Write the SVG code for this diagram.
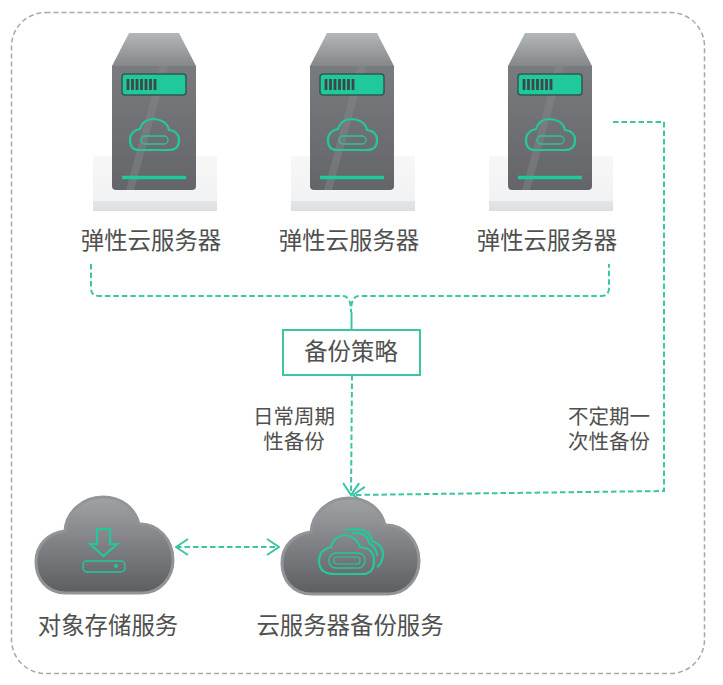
<svg xmlns="http://www.w3.org/2000/svg" xmlns:xlink="http://www.w3.org/1999/xlink" width="723" height="685" viewBox="0 0 723 685">
<style>
.lbl{font-family:"Liberation Sans","Noto Sans CJK SC",sans-serif;fill:#505050;font-size:23.4px;text-anchor:middle}
.sm{font-size:20.5px}
.dash{fill:none;stroke:#3cc4a4;stroke-width:2;stroke-dasharray:5.500 3}
.g{fill:none;stroke:#25c79d;stroke-width:2.200}
</style>
<defs>
<linearGradient id="top" x1="0" y1="0" x2="0" y2="1"><stop offset="0" stop-color="#b4b7b9"/><stop offset="1" stop-color="#85888b"/></linearGradient>
<linearGradient id="body" x1="0" y1="0" x2="0" y2="1"><stop offset="0" stop-color="#797b7e"/><stop offset="1" stop-color="#636568"/></linearGradient>
<linearGradient id="base" x1="0" y1="0" x2="0" y2="1"><stop offset="0" stop-color="#f7f7f8"/><stop offset="0.82" stop-color="#f1f2f3"/><stop offset="0.82" stop-color="#e3e5e7"/><stop offset="1" stop-color="#dcdee0"/></linearGradient>
<linearGradient id="cl" x1="0" y1="0" x2="0" y2="1"><stop offset="0" stop-color="#a0a3a6"/><stop offset="1" stop-color="#5c5e62"/></linearGradient>
<marker id="ah" viewBox="0 0 14 18" refX="13" refY="9" markerWidth="14" markerHeight="18" markerUnits="userSpaceOnUse" orient="auto-start-reverse"><path d="M1 1 L13 9 L1 17" fill="none" stroke="#3cc4a4" stroke-width="2"/></marker>
<g id="server">
<path d="M93 172 L93 211 L217 211 L217 156 L93 156Z" fill="url(#base)"/>
<path d="M129 33 L179 33 L196 66 L112 66Z" fill="url(#top)"/>
<path d="M112 66 H196 V186 Q196 190 192 190 H116 Q112 190 112 186Z" fill="url(#body)"/>
<path d="M160 66 L168 66 L134 190 L126 190Z" fill="#8a8c8f" opacity="0.4"/>
<rect x="122" y="74" width="64" height="21" rx="3" fill="#1fc99c" stroke="#2f5a52" stroke-width="1.500"/>
<path d="M128 79 V90 M132.500 79 V90 M137 79 V90 M141.500 79 V90 M146 79 V90 M150.500 79 V90 M155 79 V90" stroke="#3a4a48" stroke-width="2.800"/>
<path class="g" d="M139 150 H169 Q179 150 179 140 Q179 131 169 130 Q167 120 154 119 Q143 119 140 129 Q130 131 130 140 Q130 150 139 150Z"/>
<rect x="141" y="136" width="27" height="8" rx="4" fill="none" stroke="#25c79d" stroke-width="1.300"/>
<path d="M122 177.500 H186" stroke="#1fc99c" stroke-width="3.500"/>
</g>
<path id="cloudshape" d="M66 593 C46 593 36 578 36 562 C36 545 48 533 65 531 C66 512 83 497 103 497 C121 497 135 508 139 524 C158 523 173 540 173 560 C173 578 160 593 142 593 Z"/>
</defs>
<rect x="11.500" y="12.500" width="693" height="661" rx="34" fill="#fff" stroke="#a8a8a8" stroke-width="1.500" stroke-dasharray="5 3"/>
<g id="connectors">
<path class="dash" d="M91 264 V288 Q91 296 99 296 H343 Q351 296 351 312 Q351 296 359 296 H601 Q609 296 609 288 V264"/>
<path d="M351.500 312 V330" stroke="#3cc4a4" stroke-width="2" fill="none"/>
<path class="dash" d="M352 375 L351 495" marker-end="url(#ah)"/>
<path class="dash" d="M613 122 H664 V491 L353 495" marker-end="url(#ah)"/>
<path class="dash" d="M176 547 H279" marker-start="url(#ah)" marker-end="url(#ah)"/>
</g>
<g id="server1"><use xlink:href="#server" href="#server"/><text class="lbl" x="151" y="249">弹性云服务器</text></g>
<g id="server2"><use xlink:href="#server" href="#server" x="198"/><text class="lbl" x="349" y="249">弹性云服务器</text></g>
<g id="server3"><use xlink:href="#server" href="#server" x="396"/><text class="lbl" x="547" y="249">弹性云服务器</text></g>
<g id="policy"><rect x="283" y="330" width="137" height="45" fill="#fff" stroke="#3cc4a4" stroke-width="2"/><text class="lbl" x="351" y="360">备份策略</text></g>
<g id="label-daily"><text class="lbl sm" x="294" y="424">日常周期</text><text class="lbl sm" x="294" y="449">性备份</text></g>
<g id="label-once"><text class="lbl sm" x="609" y="424">不定期一</text><text class="lbl sm" x="609" y="449">次性备份</text></g>
<g id="obs">
<use xlink:href="#cloudshape" href="#cloudshape" fill="url(#cl)" stroke="#929497" stroke-width="3"/>
<path class="g" stroke-width="1.800" d="M97 529 H110 V544 H117 L103.500 556 L90 544 H97Z"/>
<rect x="83" y="561" width="42" height="11" rx="4" fill="none" stroke="#25c79d" stroke-width="1.500"/>
<circle cx="116" cy="566" r="2" fill="#1fc99c"/>
<text class="lbl" x="108" y="634">对象存储服务</text>
</g>
<g id="cbr">
<use xlink:href="#cloudshape" href="#cloudshape" x="246" y="1" fill="url(#cl)" stroke="#929497" stroke-width="3"/>
<path class="g" stroke-width="1.500" d="M345 530 Q370 526 372 541 Q384 545 383 556 Q381 565 377 567"/>
<path class="g" stroke-width="1.500" d="M352 533 Q368 532 369 543 Q377 548 377 556"/>
<path class="g" stroke-width="2.200" d="M335 574 H362 Q374 574 374 561 Q374 548 360 547 Q356 536 345 535 Q334 536 331 547 Q319 550 319 561 Q319 574 335 574Z"/>
<rect x="329" y="553" width="36" height="15" rx="7" fill="none" stroke="#25c79d" stroke-width="1.400"/>
<rect x="334" y="557" width="26" height="7" rx="3" fill="none" stroke="#25c79d" stroke-width="1.200"/>
<text class="lbl" x="350" y="634">云服务器备份服务</text>
</g>
</svg>
